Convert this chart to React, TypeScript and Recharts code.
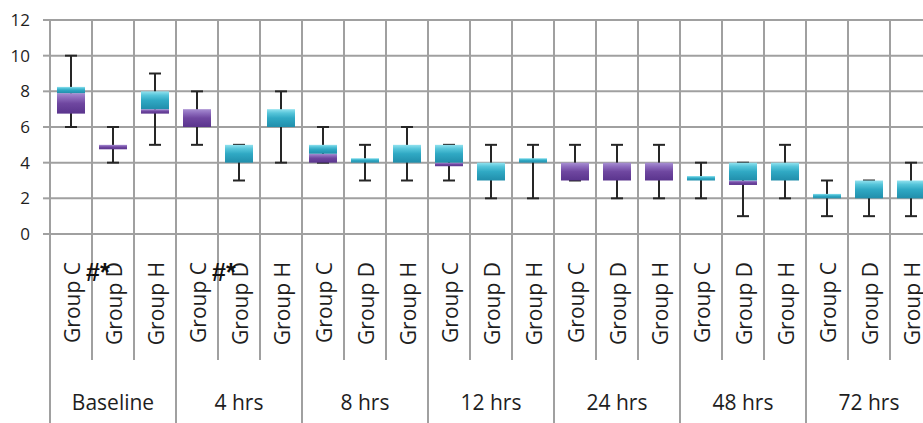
import React from 'react';
import { ComposedChart, Bar, XAxis, YAxis, CartesianGrid } from 'recharts';

// ---- data ----
const timePoints = ['Baseline', '4 hrs', '8 hrs', '12 hrs', '24 hrs', '48 hrs', '72 hrs'];
const groupNames = ['Group C', 'Group D', 'Group H'];

const mins = [6, 4, 5, 5, 3, 4, 4, 3, 3, 3, 2, 2, 3, 2, 2, 2, 1, 2, 1, 1, 1];
const q1s = [6.75, 4.75, 6.75, 6, 4, 6, 4, 4, 4, 3.8, 3, 4, 3, 3, 3, 3, 2.75, 3, 2, 2, 2];
const medians = [7.9, 5, 7, 7, 4, 6, 4.5, 4, 4, 4, 3, 4, 4, 4, 4, 3, 3, 3, 2, 2, 2];
const q3s = [8.25, 5, 8, 7, 5, 7, 5, 4.25, 5, 5, 4, 4.25, 4, 4, 4, 3.25, 4, 4, 2.25, 3, 3];
const maxs = [10, 6, 9, 8, 5, 8, 6, 5, 6, 5, 5, 5, 5, 5, 5, 4, 4, 5, 3, 3, 4];
const annotations = ['', '#*', '', '', '#*', '', '', '', '', '', '', '', '', '', '', '', '', '', '', '', ''];

const yTicks = [0, 2, 4, 6, 8, 10, 12];

// ---- table built from the arrays ----
const rows = mins.map((mn, i) => ({
  key: timePoints[Math.floor(i / 3)] + '|' + groupNames[i % 3],
  time: timePoints[Math.floor(i / 3)],
  group: groupNames[i % 3],
  note: annotations[i],
  whisker: [mn, maxs[i]],
  base: q1s[i],
  lower: medians[i] - q1s[i],
  upper: q3s[i] - medians[i],
}));
const N = rows.length;

const GRID = '#a0a0a0';
const TEXT = '#1e1e1e';
const FONT = '"Open Sans", "Noto Sans", sans-serif';

function WhiskerShape(props: any) {
  const { x, y, width, height } = props;
  if (x == null || y == null) return null;
  const cx = x + width / 2;
  return (
    <g stroke="#262626" strokeWidth={2}>
      <line x1={cx} x2={cx} y1={y} y2={y + height} />
      <line x1={x} x2={x + width} y1={y} y2={y} />
      <line x1={x} x2={x + width} y1={y + height} y2={y + height} />
    </g>
  );
}

function CategoryTick(props: any) {
  const { x, y, payload } = props;
  const i: number = payload.index ?? props.index ?? 0;
  const row = rows[i];
  const half =
    typeof payload.offset === 'number' && payload.offset > 0 ? payload.offset : props.width / N / 2;
  const xl = x - half;
  const isGroupStart = i % 3 === 0;
  return (
    <g>
      <line x1={xl} x2={xl} y1={y} y2={isGroupStart ? y + 220 : y + 126} stroke={GRID} strokeWidth={2} />
      <text
        x={x + 1}
        y={y + 28}
        transform={`rotate(-90, ${x + 1}, ${y + 28})`}
        textAnchor="end"
        dominantBaseline="central"
        fontFamily={FONT}
        fontSize={21}
        fill={TEXT}
      >
        {row.group}
      </text>
      {i % 3 === 1 && (
        <text x={x} y={y + 176} textAnchor="middle" fontFamily={FONT} fontSize={21} fill={TEXT}>
          {row.time}
        </text>
      )}
      {row.note && (
        <text
          x={x - 27}
          y={y + 47}
          textAnchor="start"
          fontFamily='"Liberation Sans", Arial, sans-serif'
          fontWeight="bold"
          fontSize={25}
          fill="#111"
        >
          {row.note}
        </text>
      )}
    </g>
  );
}

export default function App() {
  return (
    <div
      style={{
        position: 'absolute',
        left: 0,
        top: 0,
        width: 923,
        height: 423,
        overflow: 'hidden',
        background: '#fff',
      }}
    >
      <ComposedChart
        width={940}
        height={440}
        data={rows}
        margin={{ top: 20, right: 8, bottom: 0, left: 0 }}
      >
        <defs>
          <linearGradient id="gPurple" x1="0" y1="0" x2="0" y2="1">
            <stop offset="0%" stopColor="#a88fd2" />
            <stop offset="22%" stopColor="#8d6cbd" />
            <stop offset="50%" stopColor="#6f47a0" />
            <stop offset="100%" stopColor="#5a348d" />
          </linearGradient>
          <linearGradient id="gTeal" x1="0" y1="0" x2="0" y2="1">
            <stop offset="0%" stopColor="#92e2ef" />
            <stop offset="22%" stopColor="#56c5da" />
            <stop offset="50%" stopColor="#30a9c4" />
            <stop offset="100%" stopColor="#218eab" />
          </linearGradient>
        </defs>
        <CartesianGrid
          stroke={GRID}
          strokeWidth={2}
          verticalCoordinatesGenerator={({ offset }: any) =>
            Array.from({ length: N + 1 }, (_, k) => offset.left + (k * offset.width) / N)
          }
        />
        <XAxis
          xAxisId="main"
          dataKey="key"
          interval={0}
          height={206}
          tickLine={false}
          tickSize={0}
          tickMargin={0}
          axisLine={{ stroke: GRID, strokeWidth: 2 }}
          tick={<CategoryTick />}
        />
        <XAxis xAxisId="w" dataKey="key" hide />
        <YAxis
          width={50}
          domain={[0, 12]}
          ticks={yTicks}
          interval={0}
          axisLine={false}
          tickSize={7}
          tickMargin={13}
          tickLine={{ stroke: GRID, strokeWidth: 2 }}
          tick={{ fontSize: 17, fill: TEXT, fontFamily: FONT }}
        />
        <Bar
          xAxisId="w"
          dataKey="whisker"
          barSize={12}
          shape={<WhiskerShape />}
          isAnimationActive={false}
        />
        <Bar xAxisId="main" dataKey="base" stackId="box" fill="transparent" barSize={28} isAnimationActive={false} />
        <Bar
          xAxisId="main"
          dataKey="lower"
          stackId="box"
          fill="url(#gPurple)"
          barSize={28}
          isAnimationActive={false}
        />
        <Bar
          xAxisId="main"
          dataKey="upper"
          stackId="box"
          fill="url(#gTeal)"
          barSize={28}
          isAnimationActive={false}
        />
      </ComposedChart>
    </div>
  );
}
